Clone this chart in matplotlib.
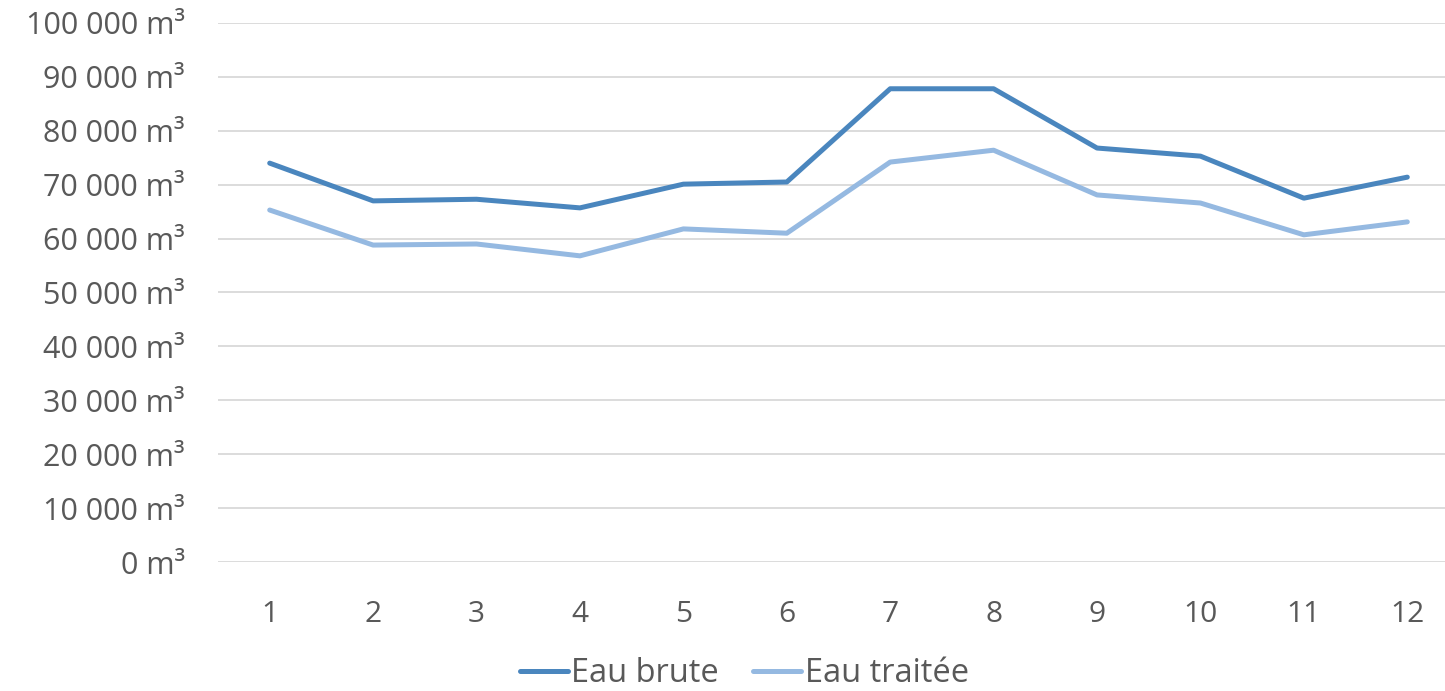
import matplotlib
matplotlib.use("Agg")
import matplotlib.pyplot as plt
from matplotlib.ticker import FuncFormatter, MultipleLocator

months = [1, 2, 3, 4, 5, 6, 7, 8, 9, 10, 11, 12]
eau_brute = [74000, 67000, 67300, 65700, 70100, 70500, 87800, 87800, 76800, 75300, 67500, 71400]
eau_traitee = [65300, 58800, 59000, 56800, 61800, 61000, 74200, 76400, 68100, 66600, 60700, 63100]
series_names = ["Eau brute", "Eau traitée"]

plt.rcParams['font.family'] = ['Open Sans', 'DejaVu Sans']
text_color = "#595959"

W, H = 1445, 691
fig = plt.figure(figsize=(W / 100, H / 100), dpi=100)
left, right = 218, 1459
top, bottom = 23, 562
ax = fig.add_axes([left / W, 1 - bottom / H, (right - left) / W, (bottom - top) / H])

x = list(range(len(months)))
ax.plot(x, eau_brute, color="#4A86BE", lw=3.6, solid_capstyle="round", label=series_names[0], zorder=3)
ax.plot(x, eau_traitee, color="#95B9E1", lw=3.6, solid_capstyle="round", label=series_names[1], zorder=3)

ax.set_xlim(-0.5, len(months) - 0.5)
ax.set_ylim(0, 100000)
ax.yaxis.set_major_locator(MultipleLocator(10000))
ax.yaxis.set_major_formatter(FuncFormatter(lambda v, p: f"{int(v):,}".replace(",", " ") + " m³"))
ax.set_xticks(x)
ax.set_xticklabels([str(m) for m in months])
ax.grid(axis="y", color="#D9D9D9", lw=1.3)
ax.set_axisbelow(True)
for s in ax.spines.values():
    s.set_visible(False)
ax.tick_params(axis="y", length=0, colors=text_color, labelsize=22, pad=24)
ax.tick_params(axis="x", length=0, colors=text_color, labelsize=21.5, pad=27)

leg = fig.legend(loc="center", bbox_to_anchor=(744.5 / W, 1 - 674 / H), ncol=2, frameon=False,
                 fontsize=23.5, handlelength=1.45, handletextpad=0.12, columnspacing=1.05, labelcolor=text_color)

fig.savefig("out.png", dpi=100)
